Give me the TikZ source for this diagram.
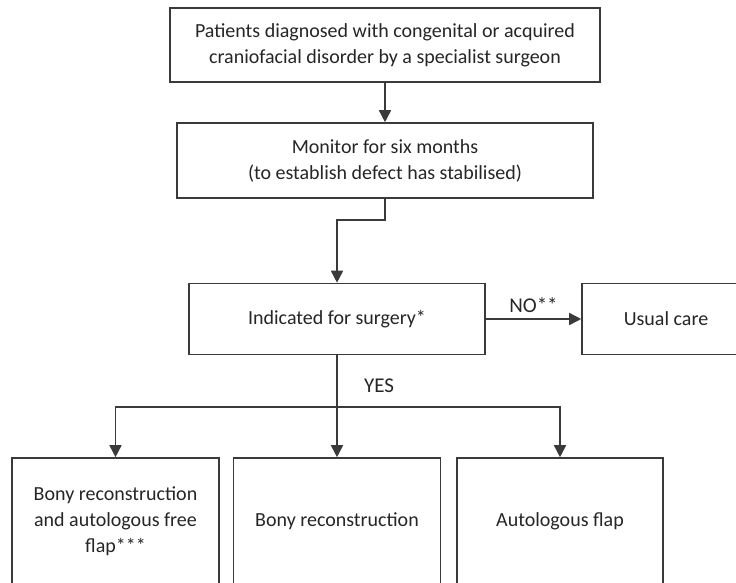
\documentclass[tikz,border=0pt]{standalone}
\usepackage{fontspec}
\setmainfont{Carlito}
\usetikzlibrary{arrows.meta}
\definecolor{linec}{HTML}{3A3A3A}
\definecolor{textc}{HTML}{262626}
\begin{document}
\begin{tikzpicture}[x=1pt,y=-1pt,
 box/.style={draw=linec, line width=1.6pt, rectangle, inner sep=0pt, align=center, text=textc, font=\fontsize{20}{26}\selectfont},
 arr/.style={draw=linec, line width=1.6pt, -{Triangle[length=12pt,width=12pt]}},
 lbl/.style={text=textc, font=\fontsize{21}{26}\selectfont}]
\useasboundingbox[fill=white] (0,0) rectangle (736,582);
\node[box, minimum width=430pt, minimum height=74pt] (top) at (385,45)
  {Patients diagnosed with congenital or acquired\\craniofacial disorder by a specialist surgeon};
\node[box, minimum width=416pt, minimum height=75pt] (mon) at (385,160.5)
  {Monitor for six months\\(to establish defect has stabilised)};
\node[box, minimum width=296pt, minimum height=71pt] (ind) at (337,319)
  {Indicated for surgery*};
\node[box, minimum width=168pt, minimum height=71pt] (usual) at (666,319)
  {Usual care};
\node[box, minimum width=207pt, minimum height=126pt] (b1) at (115.5,521)
  {Bony reconstruction\\and autologous free\\flap***};
\node[box, minimum width=207pt, minimum height=126pt] (b2) at (337,521)
  {Bony reconstruction};
\node[box, minimum width=206pt, minimum height=126pt] (b3) at (560,521)
  {Autologous flap};
\coordinate (split) at (337,407);
\draw[arr] (top.south) -- (mon.north);
\draw[arr] (mon.south) -- ++(0,21) -| (ind.north);
\draw[arr] (ind.east) -- node[lbl, above=2pt] (no) {NO**} (usual.west);
\draw[arr] (ind.south) -- (b2.north);
\draw[arr] (split) -| (b1.north);
\draw[arr] (split) -| (b3.north);
\node[lbl] (yes) at (379,386) {YES};
\end{tikzpicture}
\end{document}
